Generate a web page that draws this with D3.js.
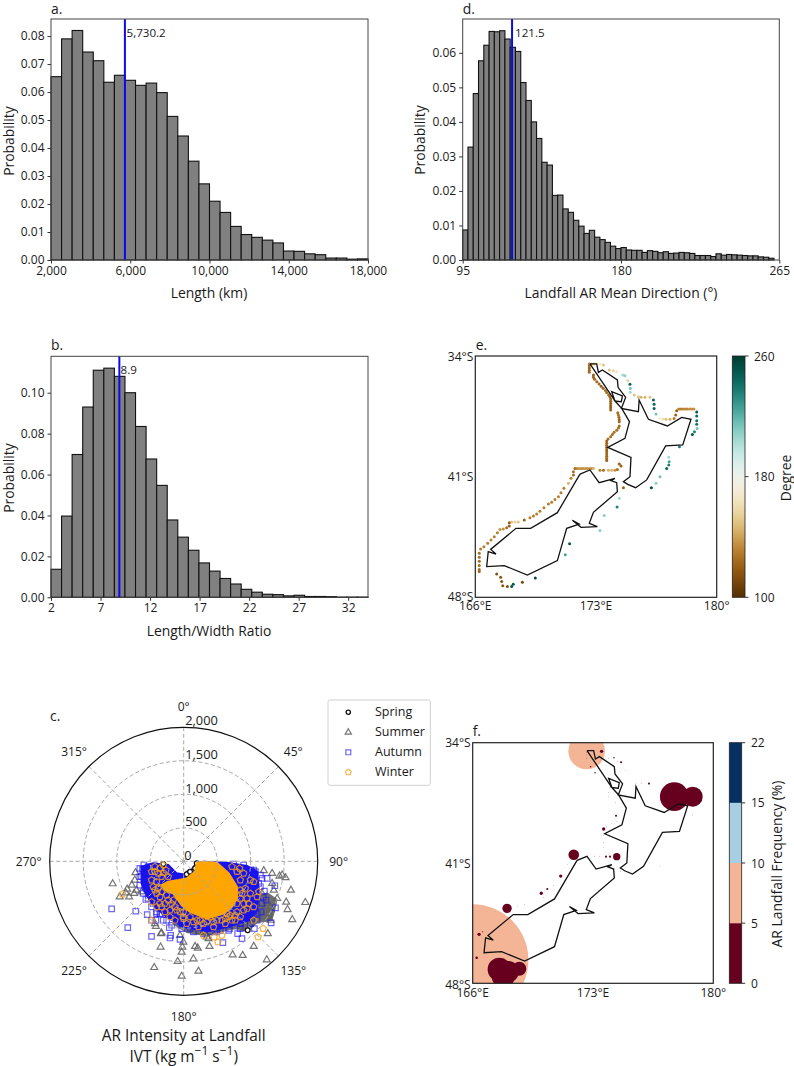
<!DOCTYPE html>
<html><head><meta charset="utf-8">
<script src="https://cdn.jsdelivr.net/npm/d3@7"></script>
<style>
html,body{margin:0;padding:0;background:#fff}
svg{display:block}
text{font-family:"Open Sans",sans-serif;fill:#1a1a1a}
</style></head><body><div id="c"></div>
<script>
// ---------- histogram values ----------
const lengthProb=[.0655,.079,.082,.0743,.0712,.0635,.066,.0642,.0624,.0632,.0598,.0513,.0443,.0353,.0272,.021,.017,.012,.0091,.0081,.0071,.0061,.0032,.0031,.0022,.0019,.0007,.0007,.0003,.0004];
const ratioProb=[.0137,.0397,.0698,.093,.111,.112,.108,.1,.0835,.0676,.0547,.0378,.0294,.023,.0168,.0128,.0092,.0065,.0039,.0025,.0015,.0013,.0007,.001,.0004,.0004,.0003,.0001,.0001,.0001];
const directionProb=[.0087,.0327,.0482,.0577,.0622,.0662,.0661,.0664,.064,.0616,.0604,.0514,.0462,.04,.0352,.0283,.0275,.0187,.0188,.0148,.0138,.0115,.0098,.0077,.0086,.0066,.0059,.0051,.004,.0033,.0036,.0029,.0028,.0028,.0022,.0027,.0025,.0021,.0024,.0019,.002,.0022,.0021,.0019,.0013,.0013,.0013,.001,.0018,.0014,.0016,.0015,.0014,.0013,.0012,.0012,.0009,.0008,.0005,0];
const lengthTicks=[2000,6000,10000,14000,18000];
const lengthProbTicks=[0,.01,.02,.03,.04,.05,.06,.07,.08];
const ratioTicks=[2,7,12,17,22,27,32];
const ratioProbTicks=[0,.02,.04,.06,.08,.1];
const directionTicks=[95,180,265];
const directionProbTicks=[0,.01,.02,.03,.04,.05,.06];
// ---------- polar scatter: IVT vector [east, south] in kg/m/s ----------
const summerIVT=[[-1060,335],[-955,530],[-845,415],[-865,470],[-815,530],[-720,170],[-730,280],[-775,355],[-705,430],[-630,455],[-740,480],[-415,970],[-340,1080],[-440,1585],[-345,1280],[-90,1495],[-30,1715],[220,1640],[145,1455],[170,1270],[210,1295],[-20,1280],[-30,1355],[-5,1205],[370,1155],[385,1270],[730,1395],[880,1405],[1045,1270],[1240,1470],[1255,1080],[1620,870],[1550,720],[1530,610],[1815,615],[1600,430],[1520,245],[1430,220],[1470,205],[1320,180],[1195,140],[1045,155],[1345,430],[1395,555],[1295,680],[1270,780],[1195,830],[845,930],[795,980],[895,1005],[970,930],[245,1055],[345,1130],[120,1005],[-55,1105],[-330,1070],[-430,930],[1145,630],[1195,730],[1120,780],[1245,630],[1170,480],[1320,330],[1295,880],[1045,880],[795,105]];
const autumnIVT=[[-1075,710],[-835,990],[-715,745],[-480,1120],[-545,795],[-480,880],[-415,880],[-345,780],[-280,755],[-255,880],[-130,770],[-215,990],[-195,1105],[-205,1145],[-55,1165],[95,1005],[370,1005],[395,1055],[495,1005],[685,1005],[805,1080],[870,1155],[585,1215],[1055,1005],[1305,920],[1360,365],[1370,695],[1230,580],[1205,445],[1245,255],[1170,255],[1070,155],[995,130],[845,105],[1120,330],[1045,630],[1095,780],[970,780],[-615,120],[-630,230],[-580,380],[-565,570],[-455,630],[-355,790],[-5,930],[245,980],[545,1030],[1145,380],[1170,630],[1045,755],[845,930],[-405,755],
[-655,105],[-595,55],[-530,80],[-655,230],[-655,355],[-605,480],[-530,555],[-480,680],[-405,780],[-305,880],[-180,955],[-30,1005],[145,1055],[295,1080],[495,1055],[670,1030],[845,1005],[995,930],[1095,880],[1155,755],[1185,530],[1145,205],[1045,130],[895,55],[745,40]];
const winterIVT=[[-430,80],[-355,105],[-265,130],[-230,230],[-330,230],[-405,305],[-430,430],[-355,530],[-280,630],[-180,630],[-255,505],[-105,730],[-5,830],[145,905],[295,930],[445,905],[570,880],[695,805],[795,755],[895,630],[870,480],[845,280],[835,105],[720,80],[1045,305],[1120,455],[995,480],[945,705],[770,880],[620,930],[445,980],[220,980],[45,930],[-130,880],[-280,755],[-405,680],[-480,605],[-480,280],[-380,405],[-55,755],[95,830],[495,880],[720,880],[845,830],[945,555],[795,630],[-480,155],[-305,55],[670,830],[245,880],[395,830],[645,780],[845,430],[-330,680],[-205,730],[-155,580],[-915,490],[-480,880],[295,1105],[455,1130],[510,1205],[570,1105],[1110,1130],[1185,1005],[1045,880],
[-430,155],[-380,180],[-305,170],[-455,380],[-405,480],[-330,455],[-230,580],[-130,680],[-5,755],[195,880],[345,905],[620,855],[770,805],[895,730],[970,630],[920,405],[895,180],[795,155],[995,280],[1095,530],[1045,680],[845,555],[-5,855],[-205,830],[-355,630]];
const springIVT=[[955,1030],[-305,40],[70,180],[45,195],[95,155],[195,30],[170,105]];
// envelopes of the regions where markers overlap into a solid mass
const summerDense=[[1045,555],[1245,480],[1385,570],[1345,755],[1305,880],[1095,905],[955,1040],[770,990],[345,1105],[45,1055],[-155,930],[845,830]];
const autumnDense=[[-630,80],[-455,30],[-230,55],[-105,180],[45,205],[195,30],[295,5],[645,20],[945,70],[1095,155],[1120,430],[1095,730],[970,880],[645,980],[345,1040],[-5,980],[-255,830],[-430,680],[-555,505],[-630,330]];
const winterDense=[[195,30],[295,5],[495,20],[670,180],[795,380],[795,555],[720,680],[595,780],[345,855],[95,755],[-30,655],[-155,480],[-280,430],[-330,355],[-230,305],[-80,280],[45,255],[170,155]];
const thetaTicks=[0,45,90,135,180,225,270,315];
const ivtTicks=[0,500,1000,1500,2000];
const seasons=["Spring","Summer","Autumn","Winter"];
// ---------- New Zealand outline [lon, lat south] ----------
const northIsland=[[172.65,34.46],[173.04,34.46],[173.14,34.95],[173.37,34.81],[174.24,35.39],[174.28,35.82],[174.72,36.40],[174.47,37.04],[175.46,37.23],[175.50,36.55],[176.04,37.67],[177.14,38.06],[177.97,37.56],[178.51,37.67],[178.03,39.16],[177.04,39.22],[175.94,41.19],[175.30,41.64],[174.84,41.45],[174.59,41.29],[174.97,41.00],[175.03,39.88],[173.68,39.30],[174.68,38.78],[174.94,37.81],[174.49,37.04],[174.10,36.61],[174.47,36.65],[174.53,36.32],[173.91,36.07],[174.10,36.61],[172.65,34.46]];
const southIsland=[[172.07,40.85],[172.65,40.61],[173.18,41.35],[174.10,41.10],[173.87,41.23],[174.20,41.35],[174.24,41.87],[172.85,43.07],[172.61,43.71],[173.08,43.90],[172.13,43.94],[171.63,43.53],[172.03,43.75],[171.30,44.0],[170.76,45.87],[169.02,46.71],[167.68,46.16],[166.66,46.22],[166.75,45.35],[167.20,45.49],[166.89,45.22],[168.36,44.0],[169.21,44.0],[170.76,43.09],[172.07,40.85]];
// ---------- panel e: coast cells [lon, lat south, mean direction] ----------
const coastDirection=[[172.61,34.46,130],[172.61,34.58,125],[172.61,34.70,122],[172.61,34.83,122],[172.61,34.95,125],
[172.85,35.10,120],[172.85,35.23,120],[172.92,35.35,122],[173.05,35.50,122],[173.18,35.62,122],[173.30,35.75,120],[173.42,35.87,122],[173.55,36.00,125],[173.62,36.12,125],[173.73,36.25,125],[173.80,36.37,122],[173.85,36.50,122],[173.85,36.62,120],[173.85,36.75,120],[173.85,36.88,120],[173.85,37.0,120],[173.85,37.13,120],
[174.26,37.29,125],[174.30,37.42,126],[174.33,37.55,125],[174.35,37.68,122],[174.35,37.81,122],[174.35,38.06,125],[174.30,38.18,125],[174.20,38.31,125],[174.05,38.43,125],[173.95,38.56,125],[173.85,38.68,125],[173.70,38.81,125],[173.62,38.93,122],[173.62,39.06,122],[173.62,39.19,122],[173.62,39.31,122],[173.62,39.44,122],[173.62,39.56,122],[173.62,39.69,122],[173.62,39.81,122],[173.62,39.94,122],[173.62,40.06,122],
[172.75,34.46,150],[172.88,34.46,150],[173.00,34.46,160],[173.12,34.48,172],[173.25,34.48,168],[173.43,34.52,150],[173.77,34.81,150],[174.0,34.85,155],[174.2,34.91,165],[174.55,35.1,205],[174.68,35.14,210],[174.84,35.43,155],[174.97,35.64,245],[174.99,35.88,215],[174.99,36.11,205],[175.22,36.26,150],[175.46,36.36,150],[175.61,36.4,145],[175.84,36.4,145],[176.13,36.4,150],[176.33,36.55,245],[176.37,36.8,245],[176.37,37.04,245],[176.48,37.37,215],[176.71,37.62,170],[176.9,37.66,160],[177.06,37.67,150],[177.29,37.67,145],[177.53,37.62,130],[177.62,37.42,120],[177.68,37.17,120],
[177.8,37.08,130],[177.93,37.08,130],[178.05,37.08,132],[178.18,37.08,132],[178.3,37.08,132],[178.43,37.08,135],[178.55,37.08,135],[178.68,37.08,135],[178.84,37.25,250],[178.84,37.48,245],[178.84,37.75,240],[178.84,37.96,240],[178.86,38.2,215],[178.71,38.39,235],[178.59,38.55,250],[177.84,39.26,235],[177.22,39.88,205],[177.24,40.13,225],[177.22,40.32,235],[177.1,40.52,245],[176.71,41.0,215],[176.48,41.39,210],[176.21,41.64,255],
[171.88,40.52,135],[172.0,40.52,135],[172.13,40.52,135],[172.25,40.52,135],[172.38,40.52,135],[172.5,40.52,135],[172.63,40.52,135],[172.75,40.52,135],[172.85,40.52,145],[173.23,40.63,130],[173.43,40.63,125],[173.72,40.63,145],[173.91,40.63,145],[174.1,40.63,135],[174.24,40.58,125],[174.45,40.38,120],[174.35,40.27,120],[174.59,41.64,120],[174.35,42.26,205],[174.22,42.76,235],[173.48,43.26,210],[173.23,44.13,210],[171.47,44.89,250],[171.22,45.53,225],[169.48,46.88,255],[168.73,47.13,110],[168.2,47.25,250],[168.11,47.38,250],[167.86,47.38,115],[167.59,47.33,116],[167.53,47.09,116],[167.47,46.84,116],[167.24,46.65,115],
[171.78,40.52,125],[171.69,40.71,125],[171.69,40.9,125],[171.55,41.1,130],[171.4,41.39,145],[171.14,41.68,130],[170.97,41.93,130],[170.82,42.16,130],[170.62,42.32,130],[170.43,42.49,130],[170.24,42.59,130],[169.98,42.8,130],[169.75,43.01,130],[169.56,43.17,130],[169.37,43.28,130],[169.17,43.38,130],[168.84,43.51,120],[168.49,43.63,150],[168.3,43.63,155],[168.11,43.63,150],[167.97,43.67,120],[167.97,43.86,120],[167.82,43.96,125],[167.62,44.04,135],[167.43,44.06,135],[167.28,44.25,130],[167.1,44.48,130],[166.91,44.68,130],[166.72,44.87,130],[166.5,45.06,130],[166.31,45.2,130],[166.23,45.45,125],[166.23,45.68,125],[166.23,45.91,125],[166.23,46.15,125],[166.23,46.38,125],[166.23,46.51,122]];
// ---------- panel f: landfall frequency [lon, lat south, percent] ----------
const coastFrequency=[[166.0,46.64,9.5],[172.63,34.48,5.45],[177.73,37.14,4.82],[178.80,37.14,4.03],[167.55,47.19,4.35],[168.07,47.32,4.16],[167.78,47.61,4.35],[168.71,47.15,3.37],[171.88,40.52,2.94],[174.38,40.63,2.44],[168.0,43.64,2.75],[173.50,34.50,1.64],[172.86,35.40,1.1],[174.63,35.14,1.3],[174.22,34.87,1.1],[173.12,35.75,1.1],[176.26,36.38,1.3],[173.62,39.02,1.64],[174.34,38.25,1.3],[173.76,40.63,1.3],[173.99,40.63,1.3],[171.12,41.76,1.64],[169.99,42.76,1.64],[170.34,42.51,1.3],[166.37,45.15,1.64],[166.58,45.0,1.0],[166.23,46.51,1.45],
[172.61,34.7,.7],[172.61,34.9,.7],[172.65,34.55,.7],[173.9,34.9,.7],[174.4,35.1,.7],[174.9,35.6,.7],[175.5,36.35,.7],[175.8,36.35,.7],[174.0,36.6,.7],[173.9,36.9,.7],[173.9,37.1,.7],[174.3,37.5,.7],[174.35,38.6,.7],[174.1,38.7,.7],[173.8,38.9,.7],[173.62,39.4,.7],[173.62,39.8,.7],[173.62,40.1,.7],[173.1,40.6,.7],[173.4,40.6,.7],[171.5,41.1,.7],[170.7,42.3,.7],[170.1,43.0,.7],[169.0,43.4,.7],[168.6,43.5,.7],[177.5,37.4,.7],[178.8,38.2,.7],[176.9,41.2,.7],[174.6,41.5,.7]];
const lonTicks=[166,173,180];
const latTicks=[34,41,48];
const degreeTicks=[100,180,260];
const freqLevels=[0,5,10,15,22];
const freqColors=["#67001f","#f4b596","#a8cee4","#053061"];

// ---------- drawing ----------
const W=794,H=1066;
const svg=d3.select("#c").append("svg").attr("width",W).attr("height",H).attr("viewBox",`0 0 ${W} ${H}`);
const defs=svg.append("defs");
const TICK=12,LABEL=13.9;
const fmtK=d3.format(",");

function label(t,x,y,size,opt={}){
  const s=svg.append("text").attr("x",x).attr("y",y).attr("font-size",size).attr("text-anchor",opt.anchor||"middle").attr("dominant-baseline","central").text(t);
  if(opt.rot) s.attr("transform",`rotate(${opt.rot} ${x} ${y})`);
  return s;
}
function hist(cfg){
  const {x0,x1,y0,y1,domain,ymax,values,xticks,yticks,xfmt,mean,meanText,meanX,meanY,xlabel,xlabelX,xlabelY,ylabelX,ylabelY,panel,panelY}=cfg;
  const x=d3.scaleLinear().domain(domain).range([x0,x1]);
  const y=d3.scaleLinear().domain([0,ymax]).range([y1,y0]);
  const step=(domain[1]-domain[0])/values.length;
  const g=svg.append("g");
  g.selectAll("rect").data(values).join("rect")
    .attr("x",(d,i)=>x(domain[0]+i*step)).attr("width",(d,i)=>x(domain[0]+(i+1)*step)-x(domain[0]+i*step))
    .attr("y",d=>y(d)).attr("height",d=>y1-y(d))
    .attr("fill","#808080").attr("stroke","#111").attr("stroke-width",1.1);
  g.append("line").attr("x1",x(mean)).attr("x2",x(mean)).attr("y1",y0).attr("y2",y1).attr("stroke","#0a0af0").attr("stroke-width",2);
  g.append("rect").attr("x",x0).attr("y",y0).attr("width",x1-x0).attr("height",y1-y0).attr("fill","none").attr("stroke","#444").attr("stroke-width",1);
  const ax=svg.append("g").attr("transform",`translate(0,${y1})`).call(d3.axisBottom(x).tickValues(xticks).tickFormat(xfmt).tickSize(3.5).tickPadding(3));
  const ay=svg.append("g").attr("transform",`translate(${x0},0)`).call(d3.axisLeft(y).tickValues(yticks).tickFormat(d3.format(".2f")).tickSize(3.5).tickPadding(3));
  [ax,ay].forEach(a=>{a.select(".domain").remove();a.selectAll("text").attr("font-size",TICK).attr("font-family",'"Open Sans",sans-serif').attr("fill","#1a1a1a");a.selectAll("line").attr("stroke","#333");});
  label(meanText,meanX,meanY,TICK-.4,{anchor:"start"});
  label(xlabel,xlabelX,xlabelY,LABEL);
  label("Probability",ylabelX,ylabelY,LABEL,{rot:-90});
  label(panel,x0,panelY,LABEL,{anchor:"start"});
}
hist({x0:51,x1:368,y0:19,y1:260,domain:[2000,18000],ymax:.0861,values:lengthProb,xticks:lengthTicks,yticks:lengthProbTicks,xfmt:fmtK,mean:5730.2,meanText:"5,730.2",meanX:126.5,meanY:32,xlabel:"Length (km)",xlabelX:209,xlabelY:292.5,ylabelX:8.5,ylabelY:141,panel:"a.",panelY:8.5});
hist({x0:51,x1:368,y0:356.3,y1:597.3,domain:[2,34],ymax:.1178,values:ratioProb,xticks:ratioTicks,yticks:ratioProbTicks,xfmt:d3.format("d"),mean:8.9,meanText:"8.9",meanX:120.5,meanY:369.5,xlabel:"Length/Width Ratio",xlabelX:209,xlabelY:630,ylabelX:8.5,ylabelY:478,panel:"b.",panelY:344});
hist({x0:462.7,x1:779.3,y0:19,y1:260,domain:[95,265],ymax:.0698,values:directionProb,xticks:directionTicks,yticks:directionProbTicks,xfmt:d3.format("d"),mean:121.5,meanText:"121.5",meanX:515,meanY:32,xlabel:"Landfall AR Mean Direction (°)",xlabelX:621,xlabelY:292.5,ylabelX:419,ylabelY:140,panel:"d.",panelY:8.5});

// polar panel
const cx=183.7,cy=861.3,R=134;
const rScale=d3.scaleLinear().domain([0,2000]).range([0,R]);
const polar=d=>{const theta=Math.atan2(d[0],d[1]),ivt=Math.hypot(d[0],d[1]);return d3.pointRadial(Math.PI-theta,rScale(ivt));};
const gp=svg.append("g").attr("transform",`translate(${cx},${cy})`);
const pentagon={draw(c,s){const r=Math.sqrt(s/2.38);d3.range(5).forEach(i=>{const p=d3.pointRadial(i*2*Math.PI/5,r);i?c.lineTo(p[0],p[1]):c.moveTo(p[0],p[1]);});c.closePath();}};
const markers={
 Spring:{sym:d3.symbolCircle,size:18,stroke:"#111",sw:1.3,fill:"#fff",op:1},
 Summer:{sym:d3.symbolTriangle,size:21,stroke:"#5e5e5e",sw:1.2,fill:"none",op:.85},
 Autumn:{sym:d3.symbolSquare,size:30,stroke:"#1d14f0",sw:1.2,fill:"none",op:.65},
 Winter:{sym:pentagon,size:27,stroke:"#f5a011",sw:1.2,fill:"none",op:.8}};
const dense=(arr,col)=>gp.append("path").attr("d",d3.line()(arr.map(polar))+"Z").attr("fill",col).attr("stroke",col).attr("stroke-width",2).attr("stroke-linejoin","round");
function scatter(arr,key){const m=markers[key];
  gp.append("g").selectAll("path").data(arr).join("path")
   .attr("transform",d=>`translate(${polar(d)})`).attr("d",d3.symbol(m.sym,m.size)())
   .attr("fill",m.fill).attr("stroke",m.stroke).attr("stroke-width",m.sw).attr("opacity",m.op);}
dense(summerDense,"#6e6e6e");
scatter(summerIVT,"Summer");
dense(autumnDense,"#1712ee");
scatter(autumnIVT,"Autumn");
scatter(springIVT,"Spring");
scatter(winterIVT,"Winter");
dense(winterDense,"#ffa500");
// grid
gp.selectAll("circle.g").data(ivtTicks.slice(1,4)).join("circle").attr("r",d=>rScale(d)).attr("fill","none").attr("stroke","#a8a8a8").attr("stroke-width",1).attr("stroke-dasharray","4 2.5");
gp.selectAll("line.s").data(thetaTicks).join("line").attr("x2",d=>d3.pointRadial(d*Math.PI/180,R)[0]).attr("y2",d=>d3.pointRadial(d*Math.PI/180,R)[1]).attr("stroke","#a8a8a8").attr("stroke-width",1).attr("stroke-dasharray","4 2.5");
gp.append("circle").attr("r",rScale(2000)).attr("fill","none").attr("stroke","#111").attr("stroke-width",1.2);
thetaTicks.forEach(t=>{const p=d3.pointRadial(t*Math.PI/180,R+21);label(t+"°",cx+p[0],cy+p[1],TICK);});
ivtTicks.forEach(v=>label(fmtK(v),cx+(v?1.5:0.5),cy-rScale(v)-(v==2000?7:6.8),TICK+.8,{anchor:"start"}));
label("AR Intensity at Landfall",cx,1035,15.4);
const ivt=svg.append("text").attr("x",cx).attr("y",1056).attr("text-anchor","middle").attr("dominant-baseline","central").attr("font-size",15.4);
ivt.append("tspan").text("IVT (kg m");
ivt.append("tspan").attr("dy",-6).attr("font-size",12).text("−1");
ivt.append("tspan").attr("dy",6).text(" s");
ivt.append("tspan").attr("dy",-6).attr("font-size",12).text("−1");
ivt.append("tspan").attr("dy",6).text(")");
label("c.",50,715,LABEL,{anchor:"start"});
// legend
svg.append("rect").attr("x",328).attr("y",700).attr("width",102.3).attr("height",85.3).attr("rx",2).attr("fill","#fff").attr("stroke","#d0d0d0").attr("stroke-width",1);
seasons.forEach((s,i)=>{const m=markers[s],yy=712.3+i*20;
  svg.append("path").attr("transform",`translate(348.3,${yy})`).attr("d",d3.symbol(m.sym,m.size*.8)()).attr("fill",m.fill).attr("stroke",m.stroke).attr("stroke-width",m.sw).attr("opacity",m.op);
  label(s,375,yy-.5,12.5,{anchor:"start"});});

// map panels
function map(x0,x1,y0,y1,id){
  const x=d3.scaleLinear().domain([166,180]).range([x0,x1]);
  const y=d3.scaleLinear().domain([34,48]).range([y0,y1]);
  defs.append("clipPath").attr("id",id).append("rect").attr("x",x0).attr("y",y0).attr("width",x1-x0).attr("height",y1-y0);
  const g=svg.append("g").attr("clip-path",`url(#${id})`);
  const outline=()=>{const line=d3.line().x(d=>x(d[0])).y(d=>y(d[1]));
    [northIsland,southIsland].forEach(a=>svg.append("path").attr("d",line(a)).attr("fill","none").attr("stroke","#111").attr("stroke-width",1.3).attr("stroke-linejoin","miter"));
    svg.append("rect").attr("x",x0).attr("y",y0).attr("width",x1-x0).attr("height",y1-y0).attr("fill","none").attr("stroke","#222").attr("stroke-width",1.2);};
  lonTicks.forEach(v=>label(v+(v==180?"°":"°E"),x(v),y1+(id=="me"?8.5:9.5),TICK));
  latTicks.forEach(v=>label(v+"°S",x0-2,y(v)+(v==48?(id=="me"?-1:1):0),TICK,{anchor:"end"}));
  return {x,y,g,outline};
}
// e
const me=map(475.3,716.7,356,597.3,"me");
const dirColor=d3.scaleSequential(d3.interpolateBrBG).domain([100,260]);
me.g.selectAll("circle").data(coastDirection).join("circle").attr("cx",d=>me.x(d[0])).attr("cy",d=>me.y(d[1])).attr("r",1.5).attr("fill",d=>dirColor(d[2]));
me.outline();
const grad=defs.append("linearGradient").attr("id","brbg").attr("x1",0).attr("x2",0).attr("y1",1).attr("y2",0);
d3.range(0,1.001,.05).forEach(t=>grad.append("stop").attr("offset",t).attr("stop-color",d3.interpolateBrBG(t)));
svg.append("rect").attr("x",732.3).attr("y",356).attr("width",12.7).attr("height",241.3).attr("fill","url(#brbg)").attr("stroke","#222").attr("stroke-width",.8);
const degY=d3.scaleLinear().domain([100,260]).range([597.3,356]);
degreeTicks.forEach(v=>{svg.append("line").attr("x1",745).attr("x2",748.5).attr("y1",degY(v)).attr("y2",degY(v)).attr("stroke","#333");label(v,754,degY(v),TICK,{anchor:"start"});});
label("Degree",785.5,478,LABEL,{rot:-90});
label("e.",475.7,344,LABEL,{anchor:"start"});
// f
const mf=map(472.7,713.3,742.7,983.3,"mf");
const freqColor=d3.scaleThreshold().domain(freqLevels.slice(1,4)).range(freqColors);
const freqR=d3.scalePow().exponent(2).domain([0,22]).range([0,298.6]);
mf.g.selectAll("circle").data(coastFrequency).join("circle").attr("cx",d=>mf.x(d[0])).attr("cy",d=>mf.y(d[1])).attr("r",d=>freqR(d[2])).attr("fill",d=>freqColor(d[2]));
mf.outline();
const lvlY=d3.scalePoint().domain(freqLevels).range([983.3,742.7]);
freqColors.forEach((c,i)=>svg.append("rect").attr("x",729.3).attr("y",lvlY(freqLevels[i+1])).attr("width",12.4).attr("height",lvlY(freqLevels[i])-lvlY(freqLevels[i+1])).attr("fill",c));
svg.append("rect").attr("x",729.3).attr("y",742.7).attr("width",12.4).attr("height",240.6).attr("fill","none").attr("stroke","#222").attr("stroke-width",.8);
freqLevels.forEach(v=>{svg.append("line").attr("x1",741.7).attr("x2",745.2).attr("y1",lvlY(v)).attr("y2",lvlY(v)).attr("stroke","#333");label(v,751,lvlY(v),TICK,{anchor:"start"});});
label("AR Landfall Frequency (%)",776.7,864,LABEL,{rot:-90});
label("f.",472.7,730,LABEL,{anchor:"start"});
</script></body></html>
